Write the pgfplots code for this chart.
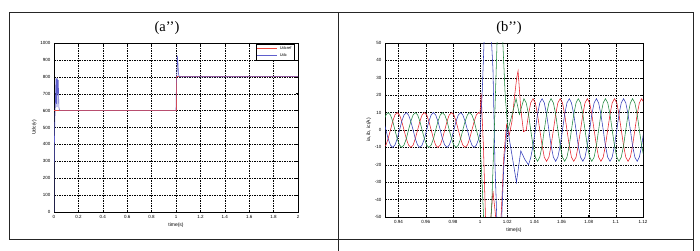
\documentclass[border=0pt]{standalone}
\usepackage{fontspec}
\setmainfont{Liberation Sans}
\newfontfamily\titlefont{Liberation Serif}
\usepackage{pgfplots}
\pgfplotsset{compat=1.18}
\definecolor{ra}{RGB}{235,70,60}
\definecolor{ba}{RGB}{95,95,205}
\definecolor{rb}{RGB}{230,30,40}
\definecolor{bb}{RGB}{50,60,185}
\definecolor{gb}{RGB}{30,135,60}
\pgfplotsset{myax/.style={
  scale only axis, anchor=south west,
  axis line style={black,line width=0.5pt},
  grid=major, major grid style={black,line width=0.35pt,dash pattern=on 1.5pt off 1pt},
  tick style={black,line width=0.4pt}, major tick length=2pt, tick align=inside,
  tick label style={font=\fontsize{4.5}{5}\selectfont},
  label style={font=\fontsize{5}{6}\selectfont},
  xlabel style={yshift=3pt}, ylabel style={yshift=-3pt},
  /pgf/number format/assume math mode=true,
  /pgf/number format/1000 sep={},
  clip=true}}
\begin{document}
\begin{tikzpicture}
\useasboundingbox (0pt,0pt) rectangle (700pt,251pt);
\draw[line width=0.7pt,black!85] (9pt,239pt) -- (693pt,239pt);
\draw[line width=0.7pt,black!85] (9pt,12pt) -- (693pt,12pt);
\draw[line width=0.7pt,black!85] (9pt,12pt) -- (9pt,239pt);
\draw[line width=0.7pt,black!85] (338pt,0pt) -- (338pt,239pt);
\draw[line width=0.7pt,black!85] (693pt,0pt) -- (693pt,239pt);
\node[font=\titlefont\fontsize{14.5}{16}\selectfont] at (167pt,223pt) {(a’’)};
\node[font=\titlefont\fontsize{14.5}{16}\selectfont] at (509pt,223pt) {(b’’)};

\begin{axis}[myax, at={(54pt,39pt)}, width=244pt, height=169pt,
  xmin=0, xmax=2, ymin=0, ymax=1000,
  xtick={0,0.2,0.4,0.6,0.8,1,1.2,1.4,1.6,1.8,2},
  ytick={0,100,200,300,400,500,600,700,800,900,1000},
  xlabel={time(s)}, ylabel={Udc(v)},
  legend style={at={(rel axis cs:0.985,0.997)}, anchor=north east,
    font=\fontsize{4}{4.5}\selectfont, draw=black, line width=0.4pt,
    inner sep=0.6pt, row sep=-1.5pt},
  legend cell align=left,
  legend image code/.code={\draw[#1] (0pt,0pt) -- (20pt,0pt);}]
\addplot[ra, line width=0.6pt] coordinates {(0,600) (1,600) (1,800) (2,800)};
\addlegendentry{Udcref}
\addplot[ba, line width=0.6pt] coordinates {
(0,0) (0.001,260) (0.004,430) (0.007,550) (0.010,620) (0.013,700) (0.016,790)
(0.019,640) (0.022,790) (0.025,620) (0.028,790) (0.031,700) (0.035,780)
(0.040,620) (0.045,600) (1.000,600) (1.004,780) (1.008,830) (1.011,925)
(1.016,880) (1.020,820) (1.026,800) (2,801)};
\addlegendentry{Udc}
\addplot[ra, line width=0.6pt, opacity=0.45, forget plot] coordinates {(0,600) (1,600) (1,800)};
\end{axis}

\begin{axis}[myax, at={(385pt,34pt)}, width=258pt, height=174pt,
  xmin=0.93, xmax=1.12, ymin=-50, ymax=50,
  xtick={0.94,0.96,0.98,1,1.02,1.04,1.06,1.08,1.1,1.12},
  ytick={-50,-40,-30,-20,-10,0,10,20,30,40,50},
  xlabel={time(s)}, ylabel={ia, ib, ic(A)}]
% phase a (red)
\addplot[rb, line width=0.55pt] coordinates {
(0.9290,-10) (0.9307,-8.66) (0.9323,-5) (0.9340,0) (0.9357,5) (0.9373,8.66)
(0.9390,10) (0.9407,8.66) (0.9423,5) (0.9440,0) (0.9457,-5) (0.9473,-8.66)
(0.9490,-10) (0.9507,-8.66) (0.9523,-5) (0.9540,0) (0.9557,5) (0.9573,8.66)
(0.9590,10) (0.9607,8.66) (0.9623,5) (0.9640,0) (0.9657,-5) (0.9673,-8.66)
(0.9690,-10) (0.9707,-8.66) (0.9723,-5) (0.9740,0) (0.9757,5) (0.9773,8.66)
(0.9790,10) (0.9807,8.66) (0.9823,5) (0.9840,0) (0.9857,-5) (0.9873,-8.66)
(0.9890,-10) (0.9907,-8.66) (0.9923,-5) (0.9940,0) (0.9957,5) (0.9973,8.66)
(0.9990,10) (1.0000,9.5) (1.0008,21) (1.0025,-10) (1.0040,-50) (1.0055,-70)
(1.0075,-55) (1.0095,-35) (1.0115,-50) (1.0135,-72) (1.0155,-50) (1.0175,-15)
(1.0195,3) (1.0215,-3) (1.0235,5) (1.0255,20) (1.0270,30) (1.0280,34)
(1.0300,12) (1.0320,-1) (1.0340,0)
(1.0357,9) (1.0373,15.6) (1.0390,18) (1.0407,15.6) (1.0423,9) (1.0440,0)
(1.0457,-9) (1.0473,-15.6) (1.0490,-18) (1.0507,-15.6) (1.0523,-9) (1.0540,0)
(1.0557,9) (1.0573,15.6) (1.0590,18) (1.0607,15.6) (1.0623,9) (1.0640,0)
(1.0657,-9) (1.0673,-15.6) (1.0690,-18) (1.0707,-15.6) (1.0723,-9) (1.0740,0)
(1.0757,9) (1.0773,15.6) (1.0790,18) (1.0807,15.6) (1.0823,9) (1.0840,0)
(1.0857,-9) (1.0873,-15.6) (1.0890,-18) (1.0907,-15.6) (1.0923,-9) (1.0940,0)
(1.0957,9) (1.0973,15.6) (1.0990,18) (1.1007,15.6) (1.1023,9) (1.1040,0)
(1.1057,-9) (1.1073,-15.6) (1.1090,-18) (1.1107,-15.6) (1.1123,-9) (1.1140,0)
(1.1157,9) (1.1173,15.6) (1.1190,18) (1.1207,15.6)};
% phase b (blue)
\addplot[bb, line width=0.55pt] coordinates {
(0.9290,5) (0.9307,0) (0.9323,-5) (0.9340,-8.66) (0.9357,-10) (0.9373,-8.66)
(0.9390,-5) (0.9407,0) (0.9423,5) (0.9440,8.66) (0.9457,10) (0.9473,8.66)
(0.9490,5) (0.9507,0) (0.9523,-5) (0.9540,-8.66) (0.9557,-10) (0.9573,-8.66)
(0.9590,-5) (0.9607,0) (0.9623,5) (0.9640,8.66) (0.9657,10) (0.9673,8.66)
(0.9690,5) (0.9707,0) (0.9723,-5) (0.9740,-8.66) (0.9757,-10) (0.9773,-8.66)
(0.9790,-5) (0.9807,0) (0.9823,5) (0.9840,8.66) (0.9857,10) (0.9873,8.66)
(0.9890,5) (0.9907,0) (0.9923,-5) (0.9940,-8.66) (0.9957,-10) (0.9973,-8.66)
(0.9990,-5) (1.0000,-2) (1.0015,20) (1.0030,52) (1.0050,75) (1.0075,65)
(1.0095,35) (1.0110,-20) (1.0125,-55) (1.0140,-78) (1.0155,-60) (1.0175,-20)
(1.0200,2) (1.0230,-12) (1.0268,-30) (1.0300,-12) (1.0330,-17) (1.0357,-20)
(1.0373,-16) (1.0390,-9)
(1.0407,0) (1.0423,9) (1.0440,15.6) (1.0457,18) (1.0473,15.6) (1.0490,9)
(1.0507,0) (1.0523,-9) (1.0540,-15.6) (1.0557,-18) (1.0573,-15.6) (1.0590,-9)
(1.0607,0) (1.0623,9) (1.0640,15.6) (1.0657,18) (1.0673,15.6) (1.0690,9)
(1.0707,0) (1.0723,-9) (1.0740,-15.6) (1.0757,-18) (1.0773,-15.6) (1.0790,-9)
(1.0807,0) (1.0823,9) (1.0840,15.6) (1.0857,18) (1.0873,15.6) (1.0890,9)
(1.0907,0) (1.0923,-9) (1.0940,-15.6) (1.0957,-18) (1.0973,-15.6) (1.0990,-9)
(1.1007,0) (1.1023,9) (1.1040,15.6) (1.1057,18) (1.1073,15.6) (1.1090,9)
(1.1107,0) (1.1123,-9) (1.1140,-15.6) (1.1157,-18) (1.1173,-15.6) (1.1190,-9)
(1.1207,0)};
% phase c (green)
\addplot[gb, line width=0.55pt] coordinates {
(0.9290,5) (0.9307,8.66) (0.9323,10) (0.9340,8.66) (0.9357,5) (0.9373,0)
(0.9390,-5) (0.9407,-8.66) (0.9423,-10) (0.9440,-8.66) (0.9457,-5) (0.9473,0)
(0.9490,5) (0.9507,8.66) (0.9523,10) (0.9540,8.66) (0.9557,5) (0.9573,0)
(0.9590,-5) (0.9607,-8.66) (0.9623,-10) (0.9640,-8.66) (0.9657,-5) (0.9673,0)
(0.9690,5) (0.9707,8.66) (0.9723,10) (0.9740,8.66) (0.9757,5) (0.9773,0)
(0.9790,-5) (0.9807,-8.66) (0.9823,-10) (0.9840,-8.66) (0.9857,-5) (0.9873,0)
(0.9890,5) (0.9907,8.66) (0.9923,10) (0.9940,8.66) (0.9957,5) (0.9973,0)
(0.9990,-5) (1.0000,-7.5) (1.0015,-30) (1.0030,-58) (1.0050,-80) (1.0070,-62)
(1.0085,-45) (1.0105,0) (1.0125,50) (1.0145,75) (1.0165,55) (1.0185,20)
(1.0205,0) (1.0240,10) (1.0265,18) (1.0290,9)
(1.0323,18) (1.0340,15.6) (1.0357,9) (1.0373,0) (1.0390,-9) (1.0407,-15.6)
(1.0423,-18) (1.0440,-15.6) (1.0457,-9) (1.0473,0) (1.0490,9) (1.0507,15.6)
(1.0523,18) (1.0540,15.6) (1.0557,9) (1.0573,0) (1.0590,-9) (1.0607,-15.6)
(1.0623,-18) (1.0640,-15.6) (1.0657,-9) (1.0673,0) (1.0690,9) (1.0707,15.6)
(1.0723,18) (1.0740,15.6) (1.0757,9) (1.0773,0) (1.0790,-9) (1.0807,-15.6)
(1.0823,-18) (1.0840,-15.6) (1.0857,-9) (1.0873,0) (1.0890,9) (1.0907,15.6)
(1.0923,18) (1.0940,15.6) (1.0957,9) (1.0973,0) (1.0990,-9) (1.1007,-15.6)
(1.1023,-18) (1.1040,-15.6) (1.1057,-9) (1.1073,0) (1.1090,9) (1.1107,15.6)
(1.1123,18) (1.1140,15.6) (1.1157,9) (1.1173,0) (1.1190,-9) (1.1207,-15.6)};
\end{axis}
\end{tikzpicture}
\end{document}
